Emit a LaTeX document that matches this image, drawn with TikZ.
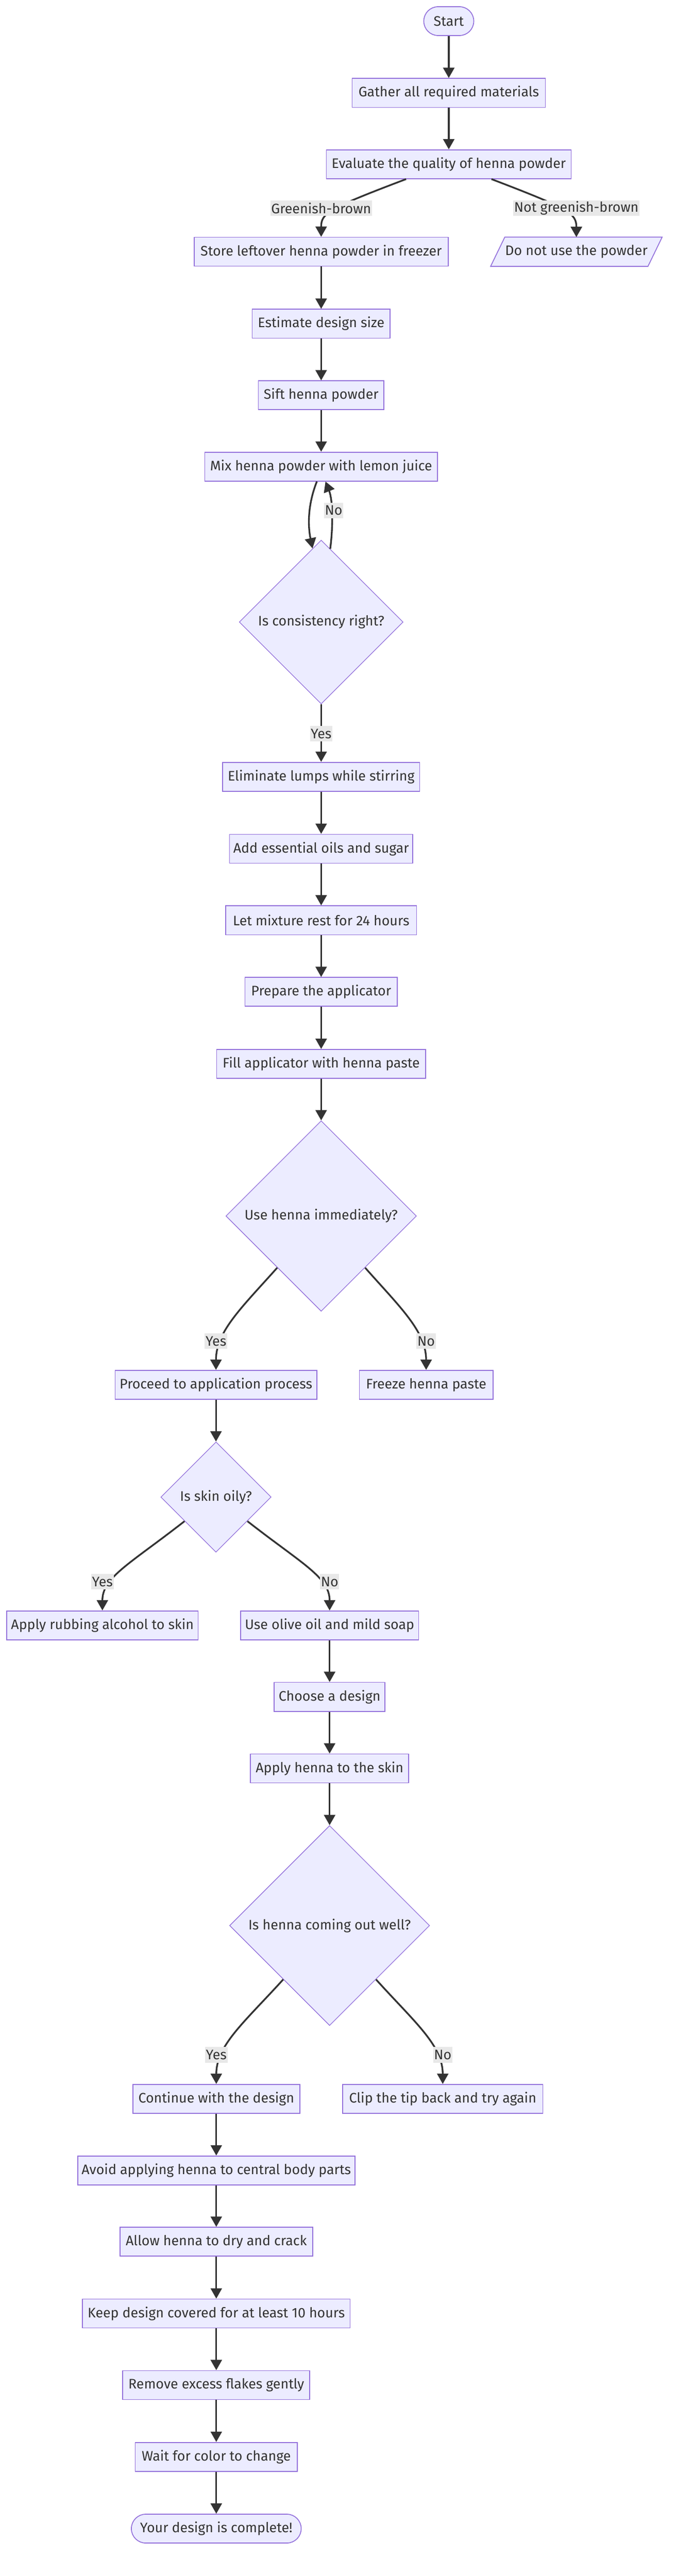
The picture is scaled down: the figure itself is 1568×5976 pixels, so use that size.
\documentclass[tikz,border=0pt]{standalone}
\usepackage{fontspec}
\setmainfont{Fira Sans}
\usetikzlibrary{arrows.meta,shapes.geometric,calc}
\definecolor{mmfill}{HTML}{ECECFF}
\definecolor{mmstroke}{HTML}{9370DB}
\definecolor{mmtext}{HTML}{333333}
\definecolor{mmedge}{HTML}{333333}
\definecolor{mmlabel}{HTML}{E8E8E8}
\tikzset{
  txt/.style={font=\fontsize{16pt}{19pt}\selectfont, text=mmtext},
  box/.style={txt, draw=mmstroke, fill=mmfill, line width=1pt, rectangle, minimum height=33.5pt, inner sep=0pt},
  bw/.style={minimum width={#1*0.5pt}},
  term/.style={box, rounded corners=16.75pt},
  dia/.style={txt, diamond, aspect=1, draw=mmstroke, fill=mmfill, line width=0.75pt, inner sep=0pt, minimum size={#1*1pt}},
  edge/.style={draw=mmedge, line width=2pt, -{Triangle[length=12pt,width=13pt]}},
  lbl/.style={txt, fill=mmlabel, inner xsep=1pt, inner ysep=0pt, minimum height=18pt}
}
\begin{document}
\begin{tikzpicture}[x=0.5pt,y=-0.5pt]
\useasboundingbox (0,0) rectangle (1568,5976);
% nodes
\node[term, bw=116] (start) at (1041,49) {Start};
\node[box, bw=448] (gather) at (1041,215.5) {Gather all required materials};
\node[box, bw=568] (eval) at (1041,381) {Evaluate the quality of henna powder};
\node[box, bw=589] (store) at (745,584) {Store leftover henna powder in freezer};
\coordinate (dnuc) at (1337,584);
\draw[draw=mmstroke, fill=mmfill, line width=1pt] ($(dnuc)+(-166,-34)$) -- ($(dnuc)+(199,-34)$) -- ($(dnuc)+(166,34)$) -- ($(dnuc)+(-199,34)$) -- cycle;
\node[txt, minimum height=33.5pt, minimum width=182pt, inner sep=0pt] (dnu) at (dnuc) {Do not use the powder};
\node[box, bw=320] (est) at (745,751) {Estimate design size};
\node[box, bw=291] (sift) at (745,917) {Sift henna powder};
\node[box, bw=540] (mix) at (745,1082.5) {Mix henna powder with lemon juice};
\node[dia=190] (d1) at (745,1443) {Is consistency right?};
\node[box, bw=457] (elim) at (745,1802) {Eliminate lumps while stirring};
\node[box, bw=425] (add) at (745,1969) {Add essential oils and sugar};
\node[box, bw=443] (rest) at (745,2135) {Let mixture rest for 24 hours};
\node[box, bw=353] (prep) at (745,2301) {Prepare the applicator};
\node[box, bw=485] (fill) at (745,2468) {Fill applicator with henna paste};
\node[dia=221] (d2) at (745,2821) {Use henna immediately?};
\node[box, bw=468] (proc) at (501,3212.5) {Proceed to application process};
\node[box, bw=310] (freeze) at (988.5,3212.5) {Freeze henna paste};
\node[dia=128] (oily) at (501,3473) {Is skin oily?};
\node[box, bw=444] (rub) at (237.5,3770.5) {Apply rubbing alcohol to skin};
\node[box, bw=413] (olive) at (764.6,3770.5) {Use olive oil and mild soap};
\node[box, bw=257] (choose) at (764.6,3936.5) {Choose a design};
\node[box, bw=367] (applyh) at (764.6,4102.5) {Apply henna to the skin};
\node[dia=232] (d3) at (764.6,4467) {Is henna coming out well?};
\node[box, bw=387] (cont) at (501.7,4869) {Continue with the design};
\node[box, bw=464] (clip) at (1027,4869) {Clip the tip back and try again};
\node[box, bw=643] (avoid) at (501.7,5035) {Avoid applying henna to central body parts};
\node[box, bw=447] (allow) at (501.7,5200.5) {Allow henna to dry and crack};
\node[box, bw=621] (keep) at (501.7,5367) {Keep design covered for at least 10 hours};
\node[box, bw=434] (remove) at (501.7,5533) {Remove excess flakes gently};
\node[box, bw=376] (wait) at (501.7,5699.5) {Wait for color to change};
\node[term, bw=394] (done) at (501.7,5866) {Your design is complete!};
% edges
\draw[edge] (start) -- (gather);
\draw[edge] (gather) -- (eval);
\draw[edge] ($(eval.south)+(-99,0)$) .. controls ($(store.north)+(15,-65)$) and ($(store.north)+(0,-55)$) .. (store.north);
\draw[edge] ($(eval.south)+(99,0)$) .. controls ($(dnu.north)+(-15,-65)$) and ($(dnu.north)+(0,-55)$) .. (dnu.north);
\draw[edge] (store) -- (est);
\draw[edge] (est) -- (sift);
\draw[edge] (sift) -- (mix);
\draw[edge] ($(mix.south)+(-10,0)$) .. controls ($(mix.south)+(-33,58)$) and ($(d1.north)+(-30,-28)$) .. ($(d1.north)+(-20,20)$);
\draw[edge] ($(d1.north)+(21,21)$) .. controls ($(d1.north)+(28,-33)$) and ($(mix.south)+(27,43)$) .. ($(mix.south)+(10,0)$);
\draw[edge] (d1) -- (elim);
\draw[edge] (elim) -- (add);
\draw[edge] (add) -- (rest);
\draw[edge] (rest) -- (prep);
\draw[edge] (prep) -- (fill);
\draw[edge] (fill) -- (d2);
\draw[edge] ($(d2.center)+(-102,120)$) .. controls ($(proc.north)+(59,-144)$) and ($(proc.north)+(0,-89)$) .. (proc.north);
\draw[edge] ($(d2.center)+(102,120)$) .. controls ($(freeze.north)+(-59,-144)$) and ($(freeze.north)+(0,-89)$) .. (freeze.north);
\draw[edge] (proc) -- (oily);
\draw[edge] ($(oily.center)+(-73,56)$) .. controls ($(rub.north)+(62.5,-107)$) and ($(rub.north)+(0,-77)$) .. (rub.north);
\draw[edge] ($(oily.center)+(73,56)$) .. controls ($(olive.north)+(-62.5,-107)$) and ($(olive.north)+(0,-77)$) .. (olive.north);
\draw[edge] (olive) -- (choose);
\draw[edge] (choose) -- (applyh);
\draw[edge] (applyh) -- (d3);
\draw[edge] ($(d3.center)+(-107.6,125)$) .. controls ($(cont.north)+(65,-143)$) and ($(cont.north)+(0,-90)$) .. (cont.north);
\draw[edge] ($(d3.center)+(107.6,125)$) .. controls ($(clip.north)+(-65,-143)$) and ($(clip.north)+(0,-90)$) .. (clip.north);
\draw[edge] (cont) -- (avoid);
\draw[edge] (avoid) -- (allow);
\draw[edge] (allow) -- (keep);
\draw[edge] (keep) -- (remove);
\draw[edge] (remove) -- (wait);
\draw[edge] (wait) -- (done);
% edge labels
\node[lbl] (lgb) at (745,483) {Greenish-brown};
\node[lbl] (lngb) at (1337,483) {Not greenish-brown};
\node[lbl] (lno1) at (774,1184) {No};
\node[lbl] (lyes1) at (745,1702) {Yes};
\node[lbl] (lyes2) at (501,3111) {Yes};
\node[lbl] (lno2) at (988.5,3111) {No};
\node[lbl] (lyes3) at (237.5,3669.5) {Yes};
\node[lbl] (lno3) at (764.6,3669.5) {No};
\node[lbl] (lyes4) at (501.7,4767) {Yes};
\node[lbl] (lno4) at (1027,4767) {No};
\end{tikzpicture}
\end{document}
